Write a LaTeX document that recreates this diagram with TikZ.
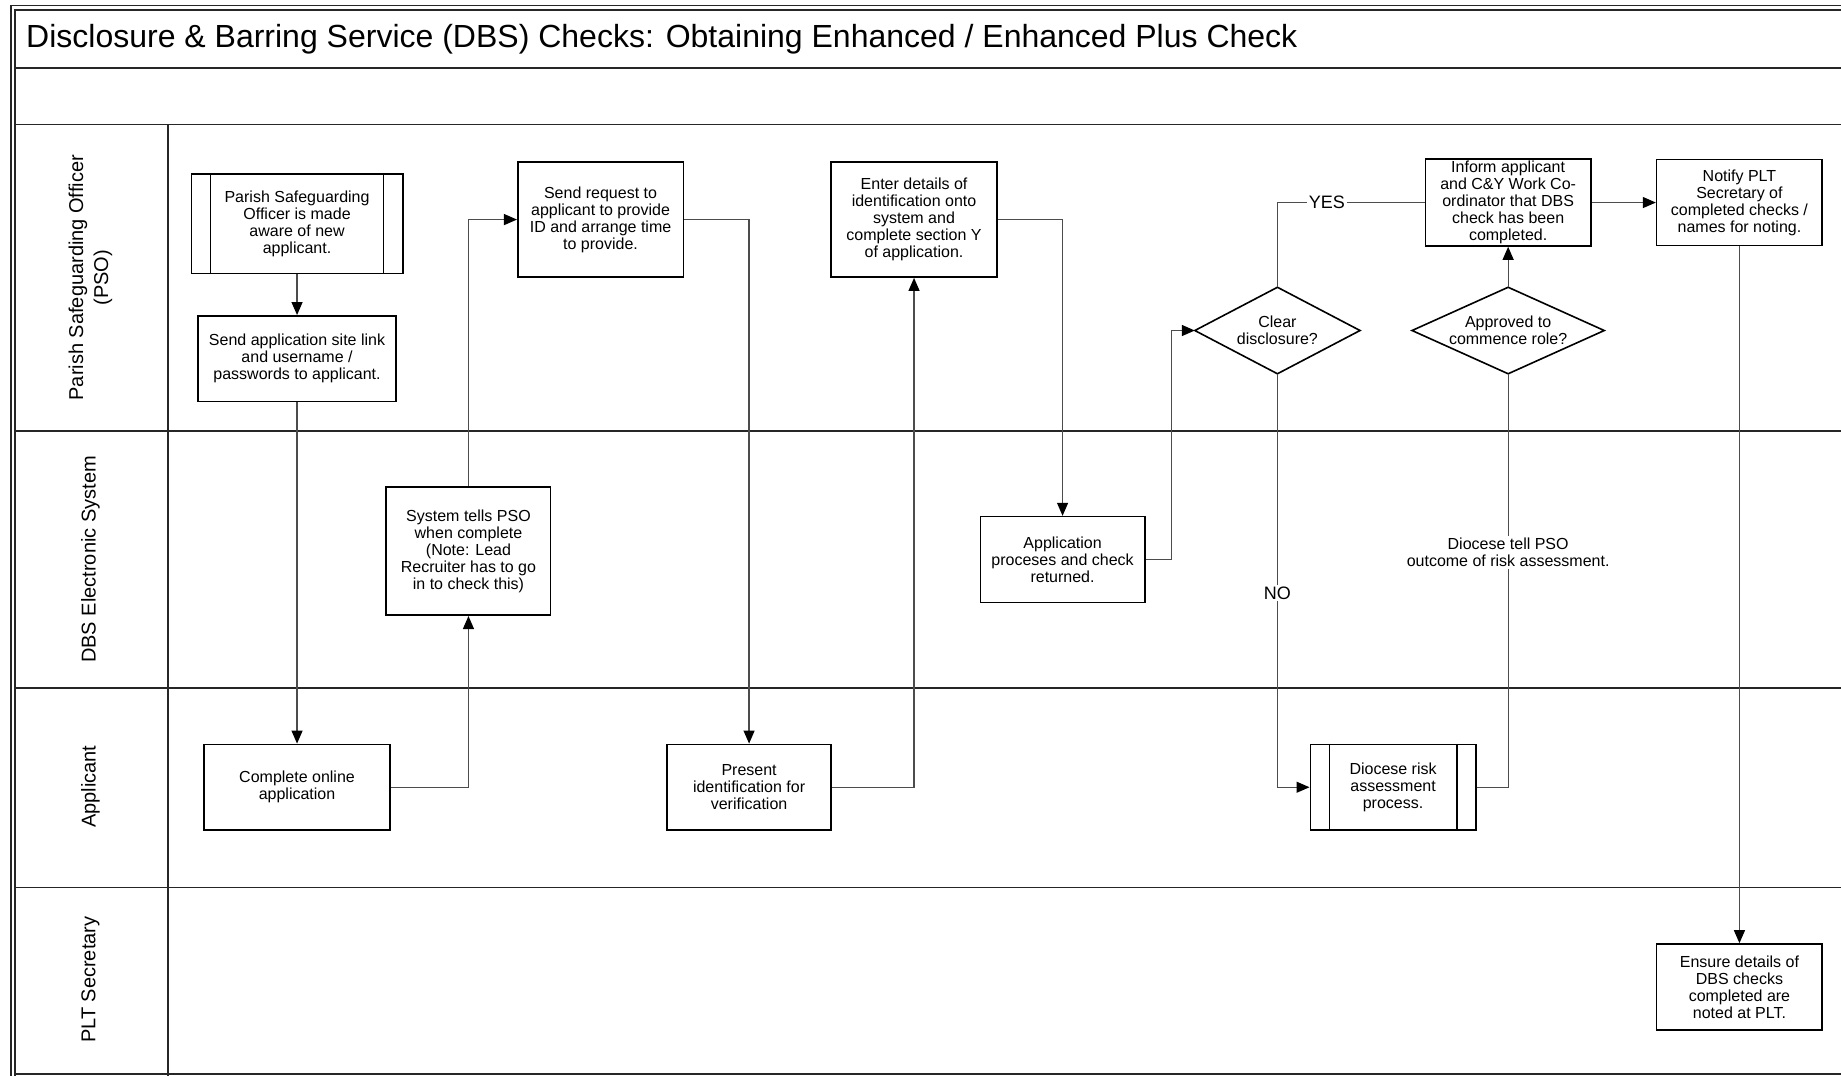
\documentclass[tikz,border=0pt]{standalone}
\usepackage{fontspec}
\setmainfont{Liberation Sans}
\usetikzlibrary{arrows.meta,calc}
\begin{document}
\begin{tikzpicture}[x=0.587pt,y=-0.587pt,
  box/.style={draw=black, line width=0.8pt, fill=white, align=center, font=\fontsize{8}{8.5}\selectfont, inner sep=1pt},
  sz/.style 2 args={minimum width=#1*0.587pt, minimum height=#2*0.587pt},
  dtext/.style={align=center, font=\fontsize{8}{8.5}\selectfont, inner sep=0pt},
  dshape/.style={draw=black, line width=0.8pt},
  conn/.style={draw=black!70, line width=0.6pt},
  arr/.style={conn, -{Triangle[length=6.5pt,width=5.5pt,color=black]}},
  lane/.style={line width=0.8pt, draw=black!85},
  frame/.style={line width=0.6pt, draw=black!85},
  lanelabel/.style={rotate=90, align=center, font=\fontsize{10}{12.5}\selectfont, inner sep=0pt},
  lbl/.style={fill=white, inner sep=1pt, font=\fontsize{8}{8.5}\selectfont, align=center},
  yn/.style={fill=white, inner sep=1pt, font=\fontsize{9}{10}\selectfont}
]
\useasboundingbox (0,0) rectangle (1568,916);
% frame and lanes
\draw[frame] (1575,5) -- (9.4,5) -- (9.4,920);
\draw[frame] (1575,8.5) -- (12.8,8.5) -- (12.8,920);
\draw[lane] (12.8,58) -- (1575,58);
\draw[lane] (12.8,106) -- (1575,106);
\draw[lane] (12.8,367) -- (1575,367);
\draw[lane] (12.8,586) -- (1575,586);
\draw[lane] (12.8,756) -- (1575,756);
\draw[lane] (12.8,914.5) -- (1575,914.5);
\draw[lane] (143,106) -- (143,920);

\node[anchor=west, font=\fontsize{16}{19}\selectfont, inner sep=0pt] (title) at (22,33)
  {Disclosure \& Barring Service (DBS) Checks: Obtaining Enhanced / Enhanced Plus Check};

\node[lanelabel] (lpso) at (77,236.5) {Parish Safeguarding Officer\\(PSO)};
\node[lanelabel] (ldbs) at (77,476.5) {DBS Electronic System};
\node[lanelabel] (lapp) at (77,670) {Applicant};
\node[lanelabel] (lplt) at (77,834.5) {PLT Secretary};

% nodes
\node[box, sz={180}{85}] (aware) at (253,190.5) {Parish Safeguarding\\Officer is made\\aware of new\\applicant.};
\draw[line width=0.8pt] ($(aware.north west)+(17,0)$) -- ($(aware.south west)+(17,0)$);
\draw[line width=0.8pt] ($(aware.north east)+(-17,0)$) -- ($(aware.south east)+(-17,0)$);

\node[box, sz={169}{73}] (link) at (253,305.5) {Send application site link\\and username /\\passwords to applicant.};
\node[box, sz={141}{98}] (sendreq) at (511.5,187) {Send request to\\applicant to provide\\ID and arrange time\\to provide.};
\node[box, sz={141}{98}] (enter) at (778.5,187) {Enter details of\\identification onto\\system and\\complete section Y\\of application.};

\node[dtext, sz={140}{73}] (clear) at (1088,281.5) {Clear\\disclosure?};
\draw[dshape] (clear.west) -- (clear.north) -- (clear.east) -- (clear.south) -- cycle;

\node[box, sz={141}{73}] (inform) at (1284.5,172.5) {Inform applicant\\and C\&Y Work Co-\\ordinator that DBS\\check has been\\completed.};

\node[dtext, sz={163}{73}] (appr) at (1284.5,281.5) {Approved to\\commence role?};
\draw[dshape] (appr.west) -- (appr.north) -- (appr.east) -- (appr.south) -- cycle;

\node[box, sz={141}{73}] (notify) at (1481.5,172.5) {Notify PLT\\Secretary of\\completed checks /\\names for noting.};

\node[box, sz={140}{109}] (systell) at (399,469.5) {System tells PSO\\when complete\\(Note: Lead\\Recruiter has to go\\in to check this)};
\node[box, sz={140}{73}] (appproc) at (905,476.5) {Application\\proceses and check\\returned.};

\node[box, sz={158}{73}] (online) at (253,670.5) {Complete online\\application};
\node[box, sz={140}{73}] (present) at (638,670.5) {Present\\identification for\\verification};

\node[box, sz={141}{73}] (diocese) at (1186.5,670.5) {Diocese risk\\assessment\\process.};
\draw[line width=0.8pt] ($(diocese.north west)+(17,0)$) -- ($(diocese.south west)+(17,0)$);
\draw[line width=0.8pt] ($(diocese.north east)+(-17,0)$) -- ($(diocese.south east)+(-17,0)$);

\node[box, sz={141}{73}] (ensure) at (1481.5,840.5) {Ensure details of\\DBS checks\\completed are\\noted at PLT.};

% connectors
\draw[arr] (aware.south) -- (link.north);
\draw[arr] (link.south) -- (online.north);
\draw[arr] (online.east) -| (systell.south);
\draw[arr] (systell.north) |- (sendreq.west);
\draw[arr] (sendreq.east) -| (present.north);
\draw[arr] (present.east) -| (enter.south);
\draw[arr] (enter.east) -| (appproc.north);
\draw[arr] (appproc.east) -- ++(22,0) |- (clear.west);
\draw[conn] (clear.north) |- node[yn, pos=0.668] (yes) {YES} (inform.west);
\draw[arr] (clear.south) |- node[yn, pos=0.265] (no) {NO} (diocese.west);
\draw[conn] (diocese.east) -| node[lbl, pos=0.784] (dtell) {Diocese tell PSO\\outcome of risk assessment.} (appr.south);
\draw[arr] (appr.north) -- (inform.south);
\draw[arr] (inform.east) -- (notify.west);
\draw[arr] (notify.south) -- (ensure.north);
\end{tikzpicture}
\end{document}
